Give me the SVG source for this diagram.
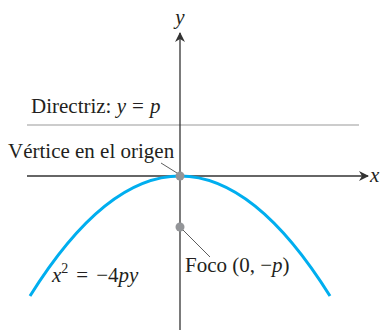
<svg xmlns="http://www.w3.org/2000/svg" width="380" height="330" viewBox="0 0 380 330">
<style>
.t{font-family:"Liberation Serif","Times New Roman",serif;font-size:21px;fill:#231f20}
.i{font-style:italic}
.ax{stroke:#333;stroke-width:1.3;fill:none}
.lead{stroke:#333;stroke-width:0.8;fill:none}
.dot{fill:#939598}
</style>
<defs>
<marker id="arr" viewBox="0 0 10 10" refX="9" refY="5" markerWidth="10" markerHeight="10" markerUnits="userSpaceOnUse" orient="auto">
<path d="M0,0 L10,5 L0,10 L3,5 Z" fill="#333"/>
</marker>
</defs>
<rect width="380" height="330" fill="#fff"/>
<g id="connectors">
<line id="directrix-line" x1="27" y1="125" x2="359" y2="125" stroke="#999" stroke-width="1.2"/>
<line id="x-axis" class="ax" x1="27" y1="176" x2="368" y2="176" marker-end="url(#arr)"/>
<line id="y-axis" class="ax" x1="180" y1="330" x2="180" y2="33" marker-end="url(#arr)"/>
<path id="parabola" d="M30,296 Q180,56 330,296" stroke="#00aeef" stroke-width="3" fill="none"/>
<line class="lead" x1="161" y1="163" x2="177" y2="173"/>
<line class="lead" x1="183" y1="230" x2="210" y2="257"/>
</g>
<g id="label-y"><text class="t i" x="180" y="24" text-anchor="middle">y</text></g>
<g id="label-x"><text class="t i" x="370" y="182">x</text></g>
<g id="directriz"><text class="t" x="31" y="113">Directriz: <tspan class="i">y</tspan><tspan dx="6">=</tspan><tspan class="i" dx="6">p</tspan></text></g>
<g id="vertice">
<circle class="dot" cx="180" cy="176" r="4.5"/>
<text class="t" x="8" y="158">Vértice en el origen</text>
</g>
<g id="foco">
<circle class="dot" cx="180" cy="227" r="4.5"/>
<text class="t" x="185" y="272">Foco (0, −<tspan class="i">p</tspan>)</text>
</g>
<g id="ecuacion"><text class="t i" x="52" y="282">x<tspan font-size="14" dy="-9" font-style="normal">2</tspan><tspan dy="9" dx="8" font-style="normal">=</tspan><tspan dx="8" font-style="normal">−4</tspan>py</text></g>
</svg>
